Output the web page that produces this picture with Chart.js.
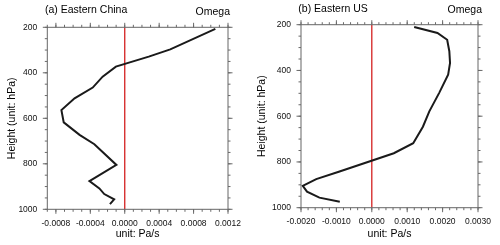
<!DOCTYPE html>
<html><head><meta charset="utf-8">
<script src="https://cdn.jsdelivr.net/npm/chart.js@4/dist/chart.umd.min.js"></script>
<style>
html,body{margin:0;padding:0;background:#fff;width:500px;height:245px;overflow:hidden}
.p{position:absolute;top:0;width:250px;height:245px}
canvas{display:block}
</style></head><body>
<div class="p" style="left:0"><canvas id="ca" width="250" height="245"></canvas></div>
<div class="p" style="left:250px"><canvas id="cb" width="250" height="245"></canvas></div>
<script>
// ---- data ----
const pressA = [207, 297, 329, 373, 417, 465, 512, 564, 618, 673, 714, 805, 876, 908, 933, 956, 977];
const omegaA = [0.001053, 0.000529, 0.000279, -0.000103, -0.000257, -0.000372, -0.000583, -0.000736, -0.000709, -0.000525, -0.000353, -0.000097, -0.000410, -0.000295, -0.000238, -0.000123, -0.000172];
const pressB = [210, 236, 266, 316, 367, 419, 499, 579, 646, 718, 762, 843, 875, 905, 930, 956, 974];
const omegaB = [0.001197, 0.001855, 0.002129, 0.002190, 0.002210, 0.002156, 0.001900, 0.001625, 0.001444, 0.001170, 0.000622, -0.000932, -0.001570, -0.001950, -0.001830, -0.001480, -0.000904];
const xTicksA = [-0.0008, -0.0004, 0.0000, 0.0004, 0.0008, 0.0012];
const xTicksB = [-0.0020, -0.0010, 0.0000, 0.0010, 0.0020, 0.0030];
const yTicks = [200, 400, 600, 800, 1000];
const titlesA = ['(a) Eastern China', 'Omega'];
const titlesB = ['(b) Eastern US', 'Omega'];
const yTitle = 'Height (unit: hPa)';
const xTitle = 'unit: Pa/s';

const FONT = '"Liberation Sans", Arial, Helvetica, sans-serif';

const framePlugin = {
  id: 'frameTicks',
  afterDatasetsDraw(chart, args, o) {
    const {ctx, chartArea: a, scales: {x, y}} = chart;
    ctx.save();
    ctx.strokeStyle = '#6a6a6a';
    ctx.lineWidth = 1;
    ctx.beginPath();
    const xt = (v, len) => {
      const px = x.getPixelForValue(v);
      ctx.moveTo(px, a.top); ctx.lineTo(px, a.top - len);
      ctx.moveTo(px, a.bottom); ctx.lineTo(px, a.bottom + len);
    };
    const yt = (v, len) => {
      const py = y.getPixelForValue(v);
      ctx.moveTo(a.left, py); ctx.lineTo(a.left - len, py);
      ctx.moveTo(a.right, py); ctx.lineTo(a.right + len, py);
    };
    for (let v = x.min; v <= x.max + 1e-12; v += o.xMinor) xt(v, 2.5);
    o.xMajor.forEach(v => xt(v, 4.5));
    for (let v = y.min; v <= y.max + 1e-9; v += 50) yt(v, 2.5);
    yTicks.forEach(v => yt(v, 4.5));
    ctx.stroke();
    ctx.strokeStyle = '#666';
    ctx.strokeRect(a.left, a.top, a.right - a.left, a.bottom - a.top);
    ctx.fillStyle = '#000';
    ctx.font = '10.5px ' + FONT;
    ctx.textBaseline = 'alphabetic';
    ctx.textAlign = 'left';
    ctx.fillText(o.titles[0], o.lx, o.ly);
    ctx.textAlign = 'right';
    ctx.fillText(o.titles[1], o.rx, o.ry);
    ctx.restore();
  }
};

function makeChart(id, press, omega, xMin, xMax, xMajor, xMinor, titles, geom) {
  const curve = press.map((p, i) => ({x: omega[i], y: p}));
  return new Chart(document.getElementById(id), {
    type: 'line',
    data: {
      datasets: [
        {data: curve, borderColor: '#1a1a1a', borderWidth: 2, pointRadius: 0, tension: 0, order: 1, clip: false},
        {data: [{x: 0, y: 200}, {x: 0, y: 1000}], borderColor: '#d42020', borderWidth: 1.3, pointRadius: 0, order: 2}
      ]
    },
    plugins: [framePlugin],
    options: {
      responsive: false, animation: false, devicePixelRatio: 1,
      layout: {padding: {left: 0, right: geom.pr, top: geom.pt, bottom: 0}},
      plugins: {
        legend: {display: false}, tooltip: {enabled: false},
        frameTicks: {xMajor, xMinor, titles, lx: geom.lx, ly: geom.ly, rx: geom.rx, ry: geom.ry}
      },
      scales: {
        x: {
          type: 'linear', min: xMin, max: xMax,
          grid: {display: false, drawTicks: false}, border: {display: false},
          afterBuildTicks: s => { s.ticks = xMajor.map(v => ({value: v})); },
          afterFit: s => { s.height = geom.xh; },
          ticks: {padding: 9, color: '#111', font: {family: FONT, size: 8.5}, maxRotation: 0, autoSkip: false,
                  callback: v => Number(v).toFixed(4)},
          title: {display: true, text: xTitle, color: '#000', font: {family: FONT, size: 10.5}, padding: {top: 0, bottom: 4.5}}
        },
        y: {
          type: 'linear', min: 200, max: 1000, reverse: true,
          grid: {display: false, drawTicks: false}, border: {display: false},
          afterBuildTicks: s => { s.ticks = yTicks.map(v => ({value: v})); },
          afterFit: s => { s.width = geom.yw; },
          ticks: {padding: 10, color: '#111', font: {family: FONT, size: 8.5}, autoSkip: false,
                  callback: v => String(v)},
          title: {display: true, text: yTitle, color: '#000', font: {family: FONT, size: 10.5}, padding: {top: 5.5, bottom: 0}}
        }
      }
    }
  });
}

makeChart('ca', pressA, omegaA, -0.0009, 0.0012, xTicksA, 0.0001, titlesA,
  {yw: 47.3, pr: 20, pt: 27.3, xh: 35.7, lx: 45, ly: 13, rx: 230, ry: 15});
makeChart('cb', pressB, omegaB, -0.002, 0.003, xTicksB, 0.0002, titlesB,
  {yw: 51, pr: 16.7, pt: 24.7, xh: 37.3, lx: 48.3, ly: 11.5, rx: 232, ry: 13});
</script>
</body></html>
